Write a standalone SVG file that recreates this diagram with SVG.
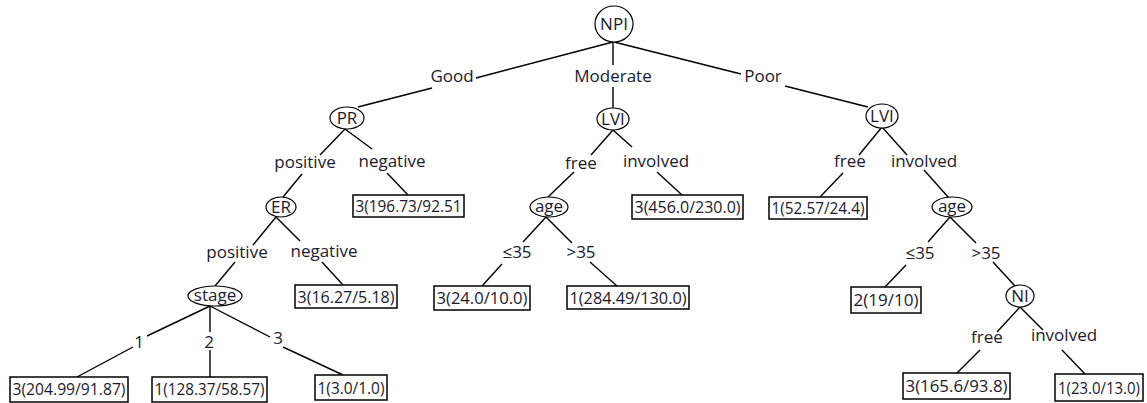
<svg xmlns="http://www.w3.org/2000/svg" width="1147" height="403" viewBox="0 0 1147 403">
<style>
text{font-family:"Open Sans","DejaVu Sans",sans-serif;font-size:17px;fill:#1a1a2e;text-anchor:middle}
.e{fill:#fff;stroke:#000;stroke-width:1.2}
.b{fill:#fff;stroke:#000;stroke-width:1.5}
.lt{font-size:16.5px}
#connectors line{stroke:#000;stroke-width:1.4}
</style>
<rect width="1147" height="403" fill="#fff"/>
<g id="connectors">
<line x1="613" y1="42" x2="476" y2="78"/><line x1="432" y1="88" x2="358" y2="107"/>
<line x1="613" y1="42" x2="613" y2="65"/><line x1="613" y1="87" x2="613" y2="108"/>
<line x1="614" y1="42" x2="741" y2="74"/><line x1="785" y1="86" x2="868" y2="107"/>
<line x1="345" y1="129" x2="320" y2="155"/><line x1="302" y1="174" x2="283" y2="197"/>
<line x1="345" y1="129" x2="372" y2="149"/><line x1="387" y1="173" x2="408" y2="195"/>
<line x1="276" y1="217" x2="253" y2="245"/><line x1="235" y1="262" x2="215" y2="286"/>
<line x1="276" y1="217" x2="300" y2="241"/><line x1="322" y1="262" x2="343" y2="285"/>
<line x1="210" y1="306" x2="147" y2="336"/><line x1="133" y1="347" x2="77" y2="377"/>
<line x1="210" y1="306" x2="210" y2="332"/><line x1="210" y1="350" x2="210" y2="377"/>
<line x1="210" y1="306" x2="270" y2="337"/><line x1="283" y1="347" x2="343" y2="375"/>
<line x1="613" y1="130" x2="591" y2="155"/><line x1="574" y1="172" x2="548" y2="197"/>
<line x1="613" y1="130" x2="632" y2="147"/><line x1="657" y1="172" x2="682" y2="195"/>
<line x1="546" y1="217" x2="523" y2="242"/><line x1="502" y1="264" x2="482" y2="286"/>
<line x1="546" y1="217" x2="572" y2="243"/><line x1="590" y1="262" x2="617" y2="286"/>
<line x1="882" y1="127" x2="859" y2="155"/><line x1="843" y1="173" x2="820" y2="197"/>
<line x1="882" y1="127" x2="907" y2="155"/><line x1="924" y1="170" x2="949" y2="198"/>
<line x1="950" y1="217" x2="928" y2="242"/><line x1="906" y1="265" x2="885" y2="287"/>
<line x1="950" y1="217" x2="976" y2="243"/><line x1="993" y1="262" x2="1015" y2="286"/>
<line x1="1020" y1="307" x2="997" y2="332"/><line x1="980" y1="350" x2="957" y2="373"/>
<line x1="1020" y1="307" x2="1043" y2="330"/><line x1="1062" y1="350" x2="1085" y2="374"/>
</g>
<g id="edge-labels">
<text x="452" y="82">Good</text>
<text x="613" y="82">Moderate</text>
<text x="763" y="82">Poor</text>
<text x="305" y="168">positive</text>
<text x="392" y="167">negative</text>
<text x="581" y="169">free</text>
<text x="656" y="167">involved</text>
<text x="850" y="167">free</text>
<text x="924" y="167">involved</text>
<text x="237" y="258">positive</text>
<text x="324" y="257">negative</text>
<text x="517" y="258">≤35</text>
<text x="581" y="258">&gt;35</text>
<text x="920" y="259">≤35</text>
<text x="986" y="259">&gt;35</text>
<text x="139" y="348">1</text>
<text x="209" y="348">2</text>
<text x="278" y="344">3</text>
<text x="987" y="343">free</text>
<text x="1064" y="341">involved</text>
</g>
<g id="n-npi"><ellipse class="e" cx="614" cy="24" rx="19" ry="18"/><text x="614" y="30">NPI</text></g>
<g id="n-pr"><ellipse class="e" cx="347" cy="118" rx="17" ry="11"/><text x="347" y="124">PR</text></g>
<g id="n-lvi1"><ellipse class="e" cx="613" cy="119" rx="16" ry="11"/><text x="613" y="125">LVI</text></g>
<g id="n-lvi2"><ellipse class="e" cx="882" cy="116" rx="16" ry="12"/><text x="882" y="122">LVI</text></g>
<g id="n-er"><ellipse class="e" cx="281" cy="207" rx="15" ry="10"/><text x="281" y="213">ER</text></g>
<g id="n-age1"><ellipse class="e" cx="549" cy="207" rx="19" ry="10"/><text x="549" y="212">age</text></g>
<g id="n-age2"><ellipse class="e" cx="952" cy="207" rx="20" ry="10"/><text x="952" y="212">age</text></g>
<g id="n-stage"><ellipse class="e" cx="215" cy="296" rx="27" ry="10"/><text x="215" y="301">stage</text></g>
<g id="n-ni"><ellipse class="e" cx="1020" cy="296" rx="14" ry="11"/><text x="1020" y="302">NI</text></g>
<g id="l1"><rect class="b" x="353" y="195" width="111" height="22"/><text class="lt" x="408.5" y="212" textLength="106" lengthAdjust="spacingAndGlyphs">3(196.73/92.51</text></g>
<g id="l2"><rect class="b" x="632" y="195" width="111" height="24"/><text class="lt" x="687.5" y="213" textLength="106" lengthAdjust="spacingAndGlyphs">3(456.0/230.0)</text></g>
<g id="l3"><rect class="b" x="769" y="197" width="98" height="22"/><text class="lt" x="818" y="214" textLength="93" lengthAdjust="spacingAndGlyphs">1(52.57/24.4)</text></g>
<g id="l4"><rect class="b" x="295" y="285" width="102" height="23"/><text class="lt" x="346" y="302.5" textLength="97" lengthAdjust="spacingAndGlyphs">3(16.27/5.18)</text></g>
<g id="l5"><rect class="b" x="434" y="286" width="96" height="24"/><text class="lt" x="482" y="304" textLength="91" lengthAdjust="spacingAndGlyphs">3(24.0/10.0)</text></g>
<g id="l6"><rect class="b" x="567" y="286" width="122" height="23"/><text class="lt" x="628" y="303.5" textLength="117" lengthAdjust="spacingAndGlyphs">1(284.49/130.0)</text></g>
<g id="l7"><rect class="b" x="851" y="287" width="70" height="26"/><text class="lt" x="886" y="306" textLength="65" lengthAdjust="spacingAndGlyphs">2(19/10)</text></g>
<g id="l8"><rect class="b" x="10" y="377" width="118" height="25"/><text class="lt" x="69" y="395" textLength="113" lengthAdjust="spacingAndGlyphs">3(204.99/91.87)</text></g>
<g id="l9"><rect class="b" x="152" y="377" width="115" height="25"/><text class="lt" x="209.5" y="395" textLength="110" lengthAdjust="spacingAndGlyphs">1(128.37/58.57)</text></g>
<g id="l10"><rect class="b" x="315" y="375" width="72" height="25"/><text class="lt" x="351" y="393.5" textLength="67" lengthAdjust="spacingAndGlyphs">1(3.0/1.0)</text></g>
<g id="l11"><rect class="b" x="903" y="373" width="107" height="26"/><text class="lt" x="956.5" y="392" textLength="102" lengthAdjust="spacingAndGlyphs">3(165.6/93.8)</text></g>
<g id="l12"><rect class="b" x="1055" y="374" width="88" height="27"/><text class="lt" x="1099" y="393.5" textLength="82" lengthAdjust="spacingAndGlyphs">1(23.0/13.0)</text></g>
</svg>
